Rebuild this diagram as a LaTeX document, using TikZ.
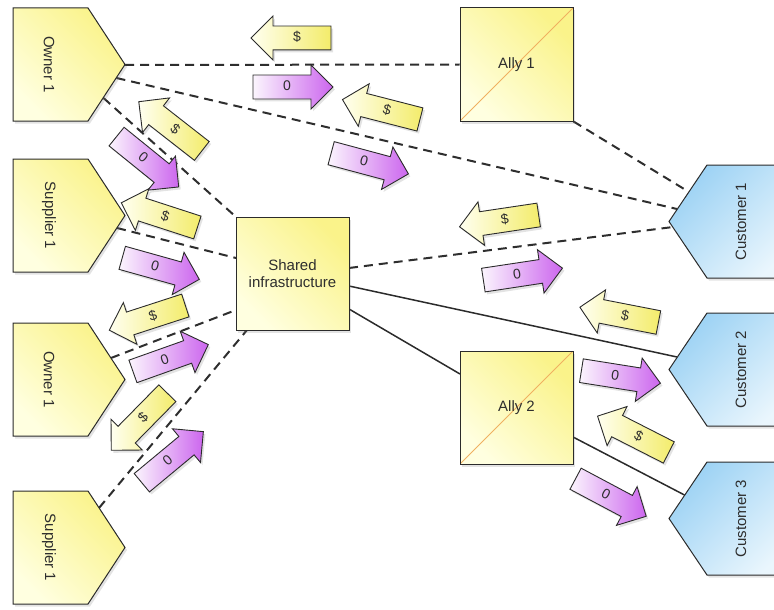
\documentclass[tikz,border=0pt]{standalone}
\usepackage{fontspec}
\setmainfont{Liberation Sans}
\usetikzlibrary{shapes.arrows,shadows}
\pgfdeclarelayer{background}
\pgfsetlayers{background,main}
\definecolor{yLight}{HTML}{FFFFE0}
\definecolor{yDark}{HTML}{FAF38A}
\definecolor{bDark}{HTML}{9CD2F4}
\definecolor{bLight}{HTML}{EAF6FD}
\definecolor{dHead}{HTML}{FFFFF0}
\definecolor{dTail}{HTML}{F3EC6A}
\definecolor{zTail}{HTML}{FBF5FD}
\definecolor{zHead}{HTML}{CC66EE}
\definecolor{edgeC}{HTML}{2B2B2B}
\definecolor{txtC}{HTML}{2E2E2E}
\definecolor{diagC}{HTML}{F0B060}
\newcommand\labfont{\fontsize{15}{17.5}\selectfont}
\newcommand\arrfont{\fontsize{14}{16}\selectfont}
\tikzset{
  shadowed/.style={drop shadow={opacity=0.22, shadow xshift=2pt, shadow yshift=-2.5pt}},
  yshape/.style={draw=edgeC, line width=1pt, left color=yLight, right color=yDark, shading angle=135, shadowed},
  bshape/.style={draw=edgeC, line width=1pt, left color=bDark, right color=bLight, shading angle=45, shadowed},
  boxnode/.style={yshape, minimum size=113pt, inner sep=0pt, align=center, font=\labfont, text=txtC},
  allynode/.style={boxnode, path picture={\draw[diagC, line width=1pt] (path picture bounding box.south west) -- (path picture bounding box.north east);}},
  lab/.style={font=\labfont, text=txtC, inner sep=0pt},
  dline/.style={draw=txtC, line width=2pt, dash pattern=on 9pt off 6pt},
  sline/.style={draw=edgeC, line width=1.5pt},
  arr/.style={single arrow, draw=edgeC, line width=0.9pt, minimum height=80pt, single arrow head extend=10pt, inner xsep=2pt, inner ysep=5.5pt, text height=10pt, text depth=2pt, font=\arrfont, text=txtC, shadowed},
  dol/.style={arr, shape border rotate=180, left color=dHead, right color=dTail},
  zer/.style={arr, left color=zTail, right color=zHead},
}
\newcommand\yshapeat[3]{%
  \path[yshape] (13,#2) -- (88,#2) -- (125,{#2+56.5}) -- (88,{#2+113}) -- (13,{#2+113}) -- cycle;
  \node[lab, rotate=-90] (#1) at (49,{#2+56.5}) {#3};}
\newcommand\bshapeat[3]{%
  \path[bshape] (669,{#2+56.5}) -- (707,#2) -- (795,#2) -- (795,{#2+113}) -- (707,{#2+113}) -- cycle;
  \node[lab, rotate=90] (#1) at (741,{#2+56.5}) {#3};}
\begin{document}
\begin{tikzpicture}[x=1pt, y=-1pt]
\useasboundingbox (0,0) rectangle (774,610);
\clip (0,0) rectangle (774,610);
% shapes
\yshapeat{own1}{8}{Owner 1}
\yshapeat{sup1}{159}{Supplier 1}
\yshapeat{own2}{323}{Owner 1}
\yshapeat{sup2}{491}{Supplier 1}
\bshapeat{cus1}{165}{Customer 1}
\bshapeat{cus2}{313}{Customer 2}
\bshapeat{cus3}{462}{Customer 3}
\node[boxnode] (shared) at (292.5,273.5) {Shared\\infrastructure};
\node[allynode] (ally1) at (516.5,64.5) {Ally 1};
\node[allynode] (ally2) at (516.5,407.5) {Ally 2};
% attachment points
\coordinate (o1a) at (125,65);
\coordinate (o1b) at (116.5,78);
\coordinate (o1c) at (103.5,98);
\coordinate (s1a) at (117,228);
\coordinate (o2a) at (111,358);
\coordinate (s2a) at (99,508);
\coordinate (c1a) at (689,192);
\coordinate (c1b) at (677,209);
\coordinate (c1c) at (673,227);
\coordinate (c2a) at (677,357);
\coordinate (c3a) at (684.5,495);
\coordinate (shA) at (236,258);
\coordinate (shB) at (236,310);
\coordinate (shC) at (247,330);
\coordinate (shD) at (349,268);
\coordinate (shE) at (349,286);
\coordinate (shF) at (349,309);
\coordinate (a2w) at (460,374);
\coordinate (a2e) at (573,437);
% connectors
\begin{pgfonlayer}{background}
\draw[dline] (o1a) -- (ally1.west);
\draw[dline] (o1b) -- (c1b);
\draw[dline] (ally1.south east) -- (c1a);
\draw[dline] (o1c) -- (shared.north west);
\draw[dline] (s1a) -- (shA);
\draw[dline] (o2a) -- (shB);
\draw[dline] (s2a) -- (shC);
\draw[dline] (shD) -- (c1c);
\draw[sline] (shE) -- (c2a);
\draw[sline] (shF) -- (a2w);
\draw[sline] (a2e) -- (c3a);
\end{pgfonlayer}
% value arrows
\node[dol, rotate=0] (d1) at (297,38) {\$};
\node[zer, rotate=0] (z1) at (287,87) {0};
\node[dol, rotate=-14.4] (d2) at (387,111) {\$};
\node[zer, rotate=-15] (z2) at (364,162) {0};
\node[dol, rotate=-38] (d3) at (175,130) {\$};
\node[zer, rotate=-39] (z3) at (143,158) {0};
\node[dol, rotate=-18] (d4) at (165,217) {\$};
\node[zer, rotate=-15.6] (z4) at (155,267) {0};
\node[dol, rotate=18] (d5) at (153,316) {\$};
\node[zer, rotate=19.6] (z5) at (165,360) {0};
\node[dol, rotate=45.5] (d6) at (143.5,417.5) {\$};
\node[zer, rotate=39.7] (z6) at (168,461) {0};
\node[dol, rotate=8.5] (d7) at (505,220) {\$};
\node[zer, rotate=8.6] (z7) at (517,275) {0};
\node[dol, rotate=-11] (d8) at (625,316) {\$};
\node[zer, rotate=-9] (z8) at (615,376) {0};
\node[dol, rotate=-27] (d9) at (638.5,437) {\$};
\node[zer, rotate=-28] (z9) at (605.6,494.7) {0};
\end{tikzpicture}
\end{document}
